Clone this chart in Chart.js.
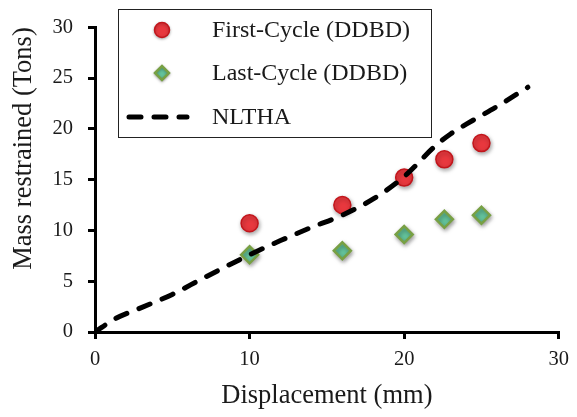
<!DOCTYPE html>
<html>
<head>
<meta charset="utf-8">
<script src="https://cdn.jsdelivr.net/npm/chart.js"></script>
<style>
  html, body { margin: 0; padding: 0; background: #fff; }
  #wrap { width: 577px; height: 417px; }
</style>
</head>
<body>
<div id="wrap"><canvas id="massChart" width="577" height="417"></canvas></div>
<script>
// Displacement (mm) vs mass restrained (Tons)
const cycleDisp = [10, 16, 20, 22.6, 25];
const firstCycleMass = [10.7, 12.5, 15.2, 17.0, 18.6];
const lastCycleMass = [7.6, 8.0, 9.6, 11.1, 11.5];

const nlthaDisp = [0, 1.3, 3, 5, 7, 10, 12, 14, 16, 18, 20, 22, 23, 24.4, 26, 28];
const nlthaMass = [0, 1.3, 2.4, 3.7, 5.3, 7.6, 9.0, 10.3, 11.5, 13.1, 15.3, 18.3, 19.5, 20.8, 22.2, 24.1];

const xTicks = [0, 10, 20, 30];
const yTicks = [0, 5, 10, 15, 20, 25, 30];

const serif = '"Liberation Serif", "Times New Roman", serif';
const ink = '#1a1a1a';

const toPoints = (xs, ys) => xs.map((x, i) => ({ x: x, y: ys[i] }));

// soft drop shadow under the marker series
const markerShadow = {
  id: 'markerShadow',
  beforeDatasetDraw(chart, args) {
    if (args.meta.type === 'line') return;
    const ctx = chart.ctx;
    ctx.save();
    ctx.shadowColor = 'rgba(0,0,0,0.35)';
    ctx.shadowBlur = 4;
    ctx.shadowOffsetX = 1;
    ctx.shadowOffsetY = 2;
  },
  afterDatasetDraw(chart, args) {
    if (args.meta.type === 'line') return;
    chart.ctx.restore();
  }
};

// legend drawn as a framed box inside the plot area
const boxLegend = {
  id: 'boxLegend',
  afterDraw(chart) {
    const ctx = chart.ctx;
    const left = 118, top = 9, w = 313, h = 128;
    ctx.save();
    ctx.strokeStyle = '#222';
    ctx.lineWidth = 1;
    ctx.strokeRect(left + 0.5, top + 0.5, w, h);
    const rows = [30, 73, 117];
    ctx.font = '24px ' + serif;
    ctx.textBaseline = 'middle';
    chart.data.datasets.forEach((ds, i) => {
      const y = rows[i];
      if (ds.showLine) {
        ctx.beginPath();
        ctx.strokeStyle = ds.borderColor;
        ctx.lineWidth = ds.borderWidth;
        ctx.lineCap = 'round';
        ctx.setLineDash(ds.borderDash);
        ctx.moveTo(129, y);
        ctx.lineTo(187, y);
        ctx.stroke();
        ctx.setLineDash([]);
      } else {
        ctx.save();
        ctx.shadowColor = 'rgba(0,0,0,0.3)';
        ctx.shadowBlur = 3;
        ctx.shadowOffsetY = 1;
        ctx.fillStyle = ds.backgroundColor;
        ctx.strokeStyle = ds.borderColor;
        ctx.lineWidth = ds.borderWidth;
        Chart.helpers.drawPoint(ctx, {
          pointStyle: ds.pointStyle,
          radius: ds.legendRadius,
          borderWidth: ds.borderWidth
        }, 162, y);
        ctx.restore();
      }
      ctx.fillStyle = ink;
      ctx.fillText(ds.label, 212, y + 1);
    });
    ctx.restore();
  }
};

new Chart(document.getElementById('massChart'), {
  type: 'scatter',
  data: {
    datasets: [
      {
        label: 'First-Cycle (DDBD)',
        data: toPoints(cycleDisp, firstCycleMass),
        pointStyle: 'circle',
        pointRadius: 8.5,
        legendRadius: 7.5,
        backgroundColor: '#e8383e',
        borderColor: '#c2161c',
        borderWidth: 1.5,
        order: 1
      },
      {
        label: 'Last-Cycle (DDBD)',
        data: toPoints(cycleDisp, lastCycleMass),
        pointStyle: 'rectRot',
        pointRadius: 8.5,
        legendRadius: 7,
        backgroundColor: '#64c49c',
        borderColor: '#78a044',
        borderWidth: 2.5,
        order: 2
      },
      {
        label: 'NLTHA',
        type: 'line',
        data: toPoints(nlthaDisp, nlthaMass),
        showLine: true,
        borderColor: '#000',
        borderWidth: 5,
        borderDash: [12, 13],
        borderCapStyle: 'round',
        pointRadius: 0,
        cubicInterpolationMode: 'monotone',
        fill: false,
        order: 0
      }
    ]
  },
  options: {
    responsive: false,
    animation: false,
    events: [],
    layout: { padding: { top: 26, right: 13, left: 0, bottom: 0 } },
    plugins: { legend: { display: false }, tooltip: { enabled: false } },
    scales: {
      x: {
        type: 'linear',
        min: 0,
        max: 30,
        afterBuildTicks: s => { s.ticks = xTicks.map(v => ({ value: v })); },
        afterFit: s => { s.height = 85; },
        grid: { drawOnChartArea: false, drawTicks: true, tickLength: 7, color: '#000', lineWidth: 3 },
        border: { color: '#000', width: 3 },
        ticks: { color: ink, padding: 8, font: { family: serif, size: 20.5 } },
        title: {
          display: true,
          text: 'Displacement (mm)',
          color: ink,
          font: { family: serif, size: 26.5, lineHeight: 1.2 },
          padding: { top: 0, bottom: 5 }
        }
      },
      y: {
        type: 'linear',
        min: 0,
        max: 30,
        afterBuildTicks: s => { s.ticks = yTicks.map(v => ({ value: v })); },
        afterFit: s => { s.width = 95; },
        grid: { drawOnChartArea: false, drawTicks: true, tickLength: 7, color: '#000', lineWidth: 3 },
        border: { color: '#000', width: 3 },
        ticks: { color: ink, padding: 15, font: { family: serif, size: 20.5 } },
        title: {
          display: true,
          text: 'Mass restrained (Tons)',
          align: 'end',
          color: ink,
          font: { family: serif, size: 26.5, lineHeight: 1.2 },
          padding: { top: 8, bottom: 0 }
        }
      }
    }
  },
  plugins: [markerShadow, boxLegend]
});
</script>
</body>
</html>
